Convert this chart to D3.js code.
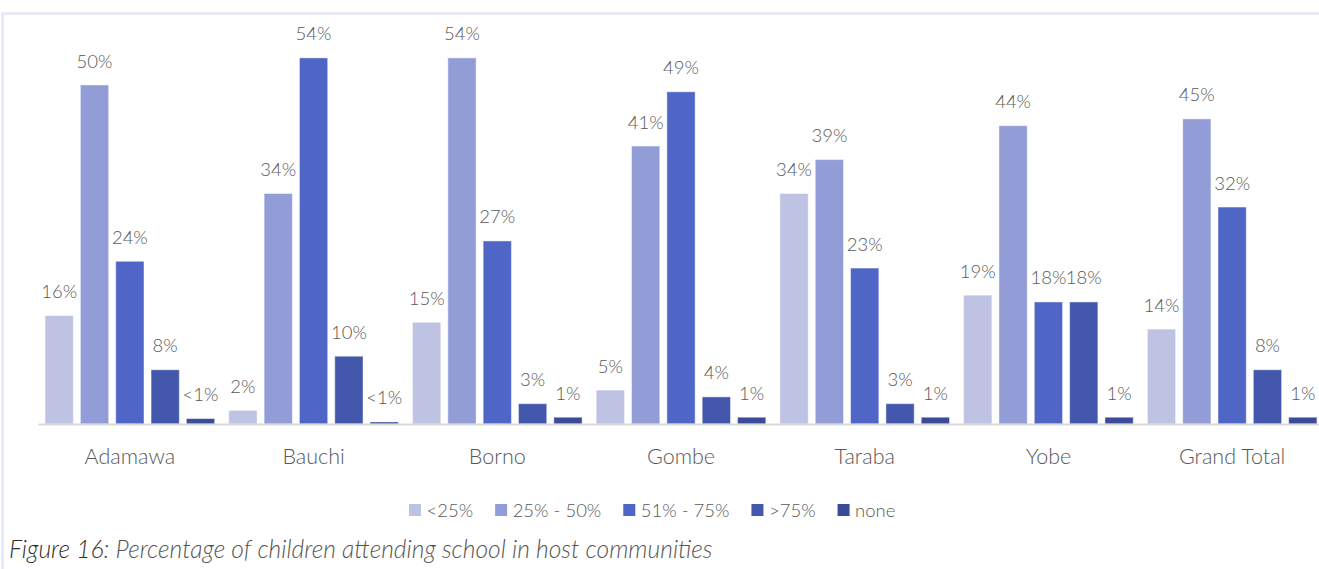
<!DOCTYPE html>
<html>
<head>
<meta charset="utf-8">
<script src="https://cdn.jsdelivr.net/npm/d3@7"></script>
<style>
  html, body { margin: 0; padding: 0; background: #fff; }
  svg { display: block; font-family: "Lato", "Open Sans", sans-serif; }
</style>
</head>
<body>
<svg id="chart" width="1319" height="569"></svg>
<script>
// States surveyed and the share of children attending school, by band
const states = ["Adamawa", "Bauchi", "Borno", "Gombe", "Taraba", "Yobe", "Grand Total"];
const bands = ["<25%", "25% - 50%", "51% - 75%", ">75%", "none"];
const bandColors = ["#bec2e3", "#929dd8", "#4f66c7", "#4358ad", "#3a4c98"];

const lessThan25 = [16, 2, 15, 5, 34, 19, 14];
const from25to50 = [50, 34, 54, 41, 39, 44, 45];
const from51to75 = [24, 54, 27, 49, 23, 18, 32];
const over75     = [8, 10, 3, 4, 3, 18, 8];
const noneValues = [0.8, 0.3, 1, 1, 1, 1, 1];

const lessThan25Labels = ["16%", "2%", "15%", "5%", "34%", "19%", "14%"];
const from25to50Labels = ["50%", "34%", "54%", "41%", "39%", "44%", "45%"];
const from51to75Labels = ["24%", "54%", "27%", "49%", "23%", "18%", "32%"];
const over75Labels     = ["8%", "10%", "3%", "4%", "3%", "18%", "8%"];
const noneLabels       = ["<1%", "<1%", "1%", "1%", "1%", "1%", "1%"];

const seriesValues = [lessThan25, from25to50, from51to75, over75, noneValues];
const seriesLabels = [lessThan25Labels, from25to50Labels, from51to75Labels, over75Labels, noneLabels];

const svg = d3.select("#chart");
const textColor = "#595959";

// frame around the chart area
svg.append("path")
  .attr("d", "M2.5,569 V13.5 H1319")
  .attr("fill", "none")
  .attr("stroke", "#e4e7f5")
  .attr("stroke-width", 2.5);

const plotLeft = 38, plotRight = 1324, baseY = 424;

const x0 = d3.scaleBand().domain(states).range([plotLeft, plotRight]).padding(0);
const x1 = d3.scaleBand().domain(d3.range(bands.length)).range([0, x0.bandwidth()])
  .paddingInner(0.2).paddingOuter(0.2);
const y = d3.scaleLinear().domain([0, 60]).range([baseY, baseY - 60 * 6.78]);

const rows = states.map((s, i) => ({
  state: s,
  bars: bands.map((b, j) => ({ band: j, value: seriesValues[j][i], label: seriesLabels[j][i] }))
}));

const groups = svg.append("g").selectAll("g")
  .data(rows).join("g")
  .attr("transform", d => `translate(${x0(d.state)},0)`);

groups.selectAll("rect")
  .data(d => d.bars).join("rect")
  .attr("x", d => x1(d.band))
  .attr("y", d => y(d.value))
  .attr("width", x1.bandwidth())
  .attr("height", d => baseY - y(d.value))
  .attr("fill", d => bandColors[d.band])
  .attr("stroke", "rgba(255,255,255,0.45)")
  .attr("stroke-width", 1);

groups.selectAll("text")
  .data(d => d.bars).join("text")
  .attr("x", d => x1(d.band) + x1.bandwidth() / 2)
  .attr("y", d => y(d.value) - 17.5)
  .attr("text-anchor", "middle")
  .attr("font-size", 18.5)
  .attr("font-weight", 300)
  .attr("fill", textColor)
  .text(d => d.label);

// category axis
const xAxis = svg.append("g")
  .attr("transform", `translate(0,${baseY})`)
  .call(d3.axisBottom(x0).tickSize(0).tickPadding(0));
xAxis.select(".domain").attr("stroke", "#d9d9d9").attr("stroke-width", 2);
xAxis.selectAll("text")
  .attr("dy", null)
  .attr("y", 40)
  .attr("font-family", "Lato, 'Open Sans', sans-serif")
  .attr("font-size", 21.5)
  .attr("font-weight", 300)
  .attr("fill", textColor);

// legend
const legend = svg.append("g");
let lx = 409;
bands.forEach((b, j) => {
  legend.append("rect")
    .attr("x", lx).attr("y", 504)
    .attr("width", 12).attr("height", 12)
    .attr("fill", bandColors[j]);
  const t = legend.append("text")
    .attr("x", lx + 17.5).attr("y", 516.5)
    .attr("font-size", 18.5)
    .attr("font-weight", 300)
    .attr("fill", textColor)
    .text(b);
  lx += 17.5 + t.node().getComputedTextLength() + 22;
});

// caption
const caption = svg.append("text")
  .attr("x", 9).attr("y", 557.5)
  .attr("font-size", 20)
  .attr("font-style", "italic")
  .attr("font-weight", 300)
  .attr("fill", "#555");
caption.append("tspan").attr("fill", "#2e2e2e").text("Figure 16");
caption.append("tspan").text(": Percentage of children attending school in host communities");
const capW = caption.node().getComputedTextLength();
caption.attr("font-size", 20 * 704 / capW);
</script>
</body>
</html>
